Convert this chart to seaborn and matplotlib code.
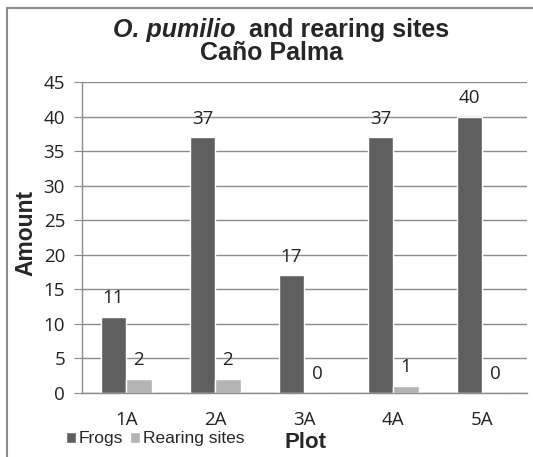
import numpy as np
import pandas as pd
import matplotlib
matplotlib.use("Agg")
import matplotlib.pyplot as plt
import seaborn as sns
from matplotlib.lines import Line2D

# data
plots = ["1A", "2A", "3A", "4A", "5A"]
frogs = [11, 37, 17, 37, 40]
rearing_sites = [2, 2, 0, 1, 0]
series = ["Frogs", "Rearing sites"]
colors = ["#5f5f5f", "#b4b4b4"]
y_ticks = list(range(0, 50, 5))

df = pd.DataFrame({
    "Plot": plots * 2,
    "Amount": frogs + rearing_sites,
    "Series": [series[0]] * len(plots) + [series[1]] * len(plots),
})

sns.set_style("white")
plt.rcParams["font.family"] = ["Liberation Sans", "DejaVu Sans"]

fig = plt.figure(figsize=(5.33, 4.57), dpi=100)
ax = fig.add_axes([81.7 / 533, 1 - 392.7 / 457, 445 / 533, (392.7 - 82) / 457])

sns.barplot(data=df, x="Plot", y="Amount", hue="Series", hue_order=series,
            palette=colors, width=0.57, saturation=1, ax=ax)

for cont in ax.containers:
    ax.bar_label(cont, fmt="%d", padding=7, fontsize=13.5,
                 family="Open Sans", color="#222222")

ax.set_ylim(0, 45)
ax.set_xlim(-0.5, len(plots) - 0.5)
ax.set_yticks(y_ticks)
ax.yaxis.grid(True, color="#8c8c8c", linewidth=1)
ax.set_axisbelow(True)
for s in ["top", "right"]:
    ax.spines[s].set_visible(False)
for s in ["left", "bottom"]:
    ax.spines[s].set_color("#8c8c8c")
    ax.spines[s].set_linewidth(1)

# category boundaries as minor ticks, labels without tick lines
ax.set_xticks(np.arange(-0.5, len(plots)), minor=True)
ax.tick_params(axis="x", which="minor", length=6, color="#8c8c8c", direction="out")
ax.tick_params(axis="x", which="major", length=0, pad=13)
ax.tick_params(axis="y", length=6, color="#8c8c8c", direction="out", pad=6, left=True)
ax.tick_params(axis="both", which="major", labelsize=13.5, labelcolor="#222222",
               labelfontfamily="Open Sans")
ax.set_xlabel("")
ax.set_ylabel("")

# legend at bottom-left
handles, labels = ax.get_legend_handles_labels()
ax.get_legend().remove()
fig.legend(handles, labels, loc="center left", bbox_to_anchor=(57 / 533, 1 - 439 / 457),
           ncol=2, frameon=False, handlelength=0.6, handleheight=0.6,
           handletextpad=0.15, columnspacing=0.4, borderpad=0, fontsize=12.5)

fig.text(305 / 533, 1 - 442 / 457, "Plot", ha="center", va="center",
         fontsize=16, fontweight="bold")
fig.text(26 / 533, 1 - 233 / 457, "Amount", ha="center", va="center",
         rotation=90, fontsize=16.5, fontweight="bold")

# title: italic species name followed by plain bold words
fig.canvas.draw()
r = fig.canvas.get_renderer()
t1 = fig.text(0, 1 - 30 / 457, "O. pumilio", fontsize=18, fontweight="bold",
              fontstyle="italic", va="center")
t2 = fig.text(0, 1 - 30 / 457, "  and rearing sites", fontsize=18, fontweight="bold",
              va="center")
w1 = t1.get_window_extent(r).width
w2 = t2.get_window_extent(r).width
x0 = 281 - (w1 + w2) / 2
t1.set_x(x0 / 533)
t2.set_x((x0 + w1) / 533)
fig.text(272 / 533, 1 - 53 / 457, "Caño Palma", ha="center", va="center",
         fontsize=18, fontweight="bold")

# chart area border (left and top edges visible)
fig.add_artist(Line2D([7 / 533, 7 / 533], [0, 1 - 8 / 457], color="#8c8c8c", lw=1.5))
fig.add_artist(Line2D([7 / 533, 1], [1 - 8 / 457, 1 - 8 / 457], color="#8c8c8c", lw=1.5))

fig.savefig("out.png", dpi=100)
